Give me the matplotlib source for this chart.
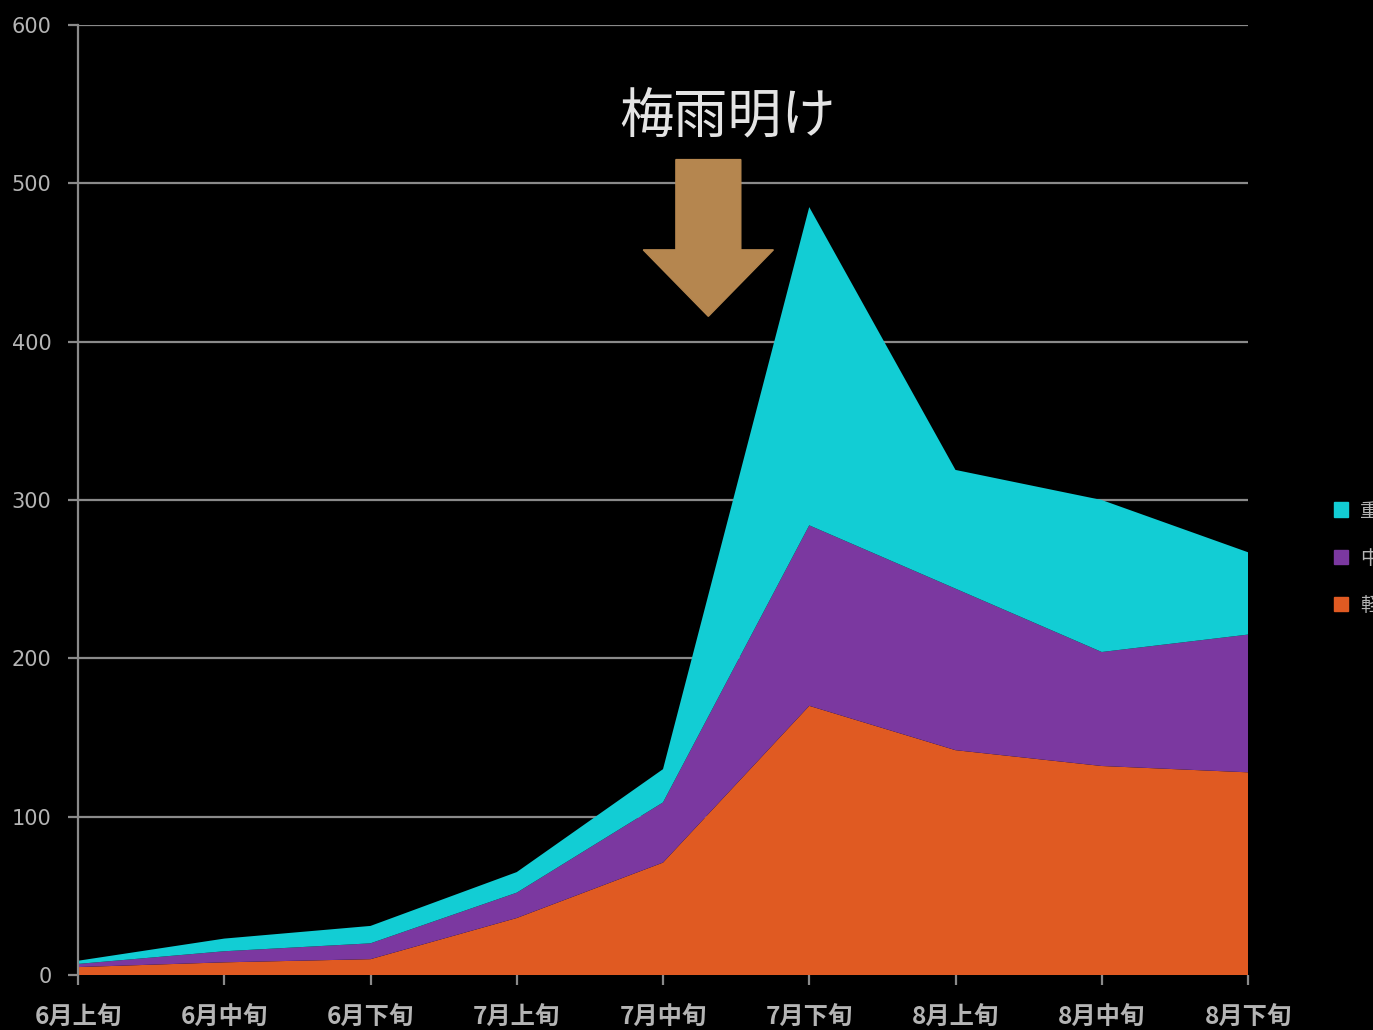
import matplotlib
matplotlib.use("Agg")
import matplotlib.pyplot as plt
from matplotlib.patches import FancyArrow, Patch

plt.rcParams['font.family'] = ['Noto Sans CJK JP', 'DejaVu Sans']

# 旬ごとの件数
periods = ["6月上旬", "6月中旬", "6月下旬", "7月上旬", "7月中旬",
           "7月下旬", "8月上旬", "8月中旬", "8月下旬"]
mild = [5, 8, 10, 36, 71, 170, 142, 132, 128]
moderate = [2, 7, 10, 16, 38, 114, 102, 72, 87]
severe = [2, 8, 11, 13, 21, 201, 75, 96, 52]
series_names = ["重症", "中等症", "軽症"]
y_ticks = [0, 100, 200, 300, 400, 500, 600]

c_orange = "#E05A22"
c_purple = "#7B38A0"
c_cyan = "#12CDD4"
c_grid = "#8A8A8A"
c_text = "#B4B4B4"

fig = plt.figure(figsize=(13.73, 10.30), dpi=100, facecolor="black")
ax = fig.add_axes([78 / 1373, 55 / 1030, 1170 / 1373, 950 / 1030])
ax.set_facecolor("black")

x = list(range(len(periods)))
ax.stackplot(x, mild, moderate, severe,
             colors=[c_orange, c_purple, c_cyan], zorder=2, linewidth=0)

ax.set_xlim(0, len(periods) - 1)
ax.set_ylim(0, 600)
ax.set_yticks(y_ticks)
ax.set_xticks(x)
ax.set_xticklabels(periods)

ax.grid(axis="y", color=c_grid, linewidth=1.6, zorder=1)
ax.set_axisbelow(True)
for side in ["top", "right", "bottom"]:
    ax.spines[side].set_visible(False)
ax.spines["left"].set_color(c_grid)
ax.spines["left"].set_linewidth(1.6)

ax.tick_params(axis="y", colors=c_grid, length=7, width=1.6, pad=12,
               labelcolor=c_text, labelsize=15)
ax.tick_params(axis="x", colors=c_grid, length=7, width=1.6, pad=15,
               labelcolor=c_text, labelsize=17.5)
for lbl in ax.get_yticklabels():
    lbl.set_fontfamily("DejaVu Sans")
for lbl in ax.get_xticklabels():
    lbl.set_fontweight("bold")

# 梅雨明けの矢印
arrow = FancyArrow(4.31, 515, 0, -99, width=0.444, head_width=0.89,
                   head_length=42, length_includes_head=True,
                   color="#B5864F", zorder=4, clip_on=False)
ax.add_patch(arrow)
ax.text(4.44, 541, "梅雨明け", color="#E4E4E4", fontsize=39,
        ha="center", va="center", zorder=5)

handles = [Patch(color=c_cyan), Patch(color=c_purple), Patch(color=c_orange)]
fig.legend(handles, series_names, loc="center left",
           bbox_to_anchor=(1326 / 1373, 1 - 558 / 1030),
           frameon=False, fontsize=14, labelcolor=c_text,
           handlelength=0.75, handleheight=0.75, handletextpad=0.6,
           labelspacing=1.35, borderaxespad=0)

fig.savefig("out.png", dpi=100, facecolor="black")
